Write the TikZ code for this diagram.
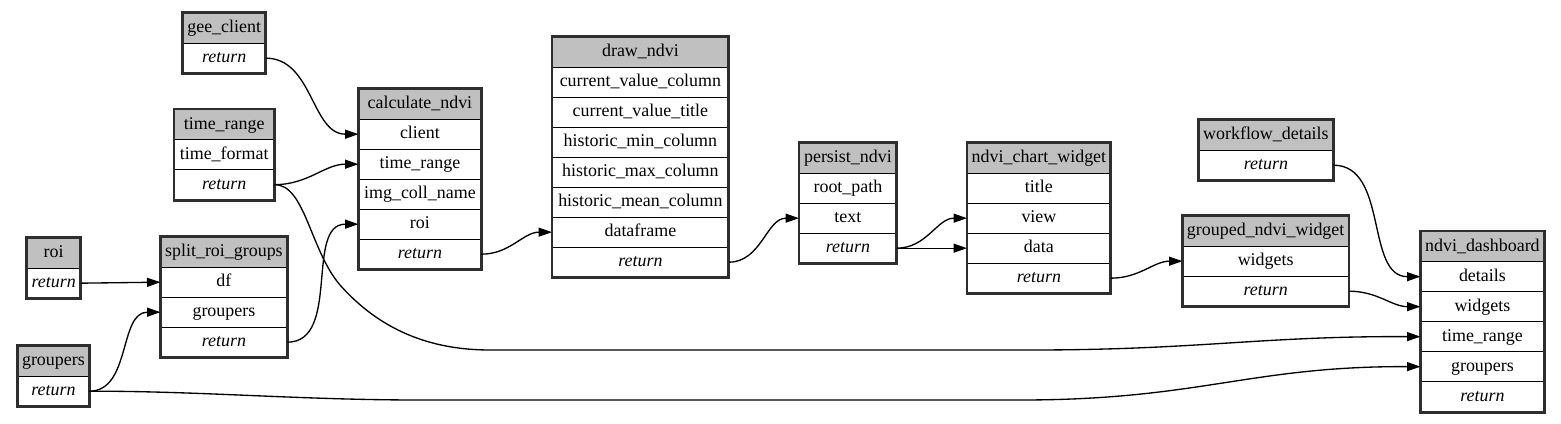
\documentclass[tikz,border=0pt]{standalone}
\usepackage{fontspec}
\setmainfont{Liberation Serif}
\usetikzlibrary{arrows.meta}
\definecolor{hdrgray}{HTML}{C0C0C0}
\definecolor{bordergray}{HTML}{2E2E2E}
\tikzset{
  cell/.style={draw=black, line width=1.33bp, fill=white, rectangle, inner sep=0pt,
    minimum height=30bp, text height=13bp, text depth=4bp, font=\fontsize{18}{20}\selectfont},
  hdr/.style={cell, fill=hdrgray},
  border/.style={draw=bordergray, line width=2.7bp},
  edge/.style={draw=black, line width=1.33bp, -{Triangle[length=13.5bp, width=9bp]}},
}
\newcommand\rec[7]{%
  \node[hdr, minimum width=#4bp, anchor=north west] (#1) at (#2,#3) {#5};
  \foreach \t [count=\i] in {#6} {
    \node[cell, minimum width=#4bp, anchor=north west] (#1-\i) at (#2,#3+30*\i) {\t};
  }
  \draw[border] (#1.north west) rectangle (#1-#7.south east);
}
\begin{document}
\begin{tikzpicture}[x=1bp, y=-1bp]
\useasboundingbox (0,0) rectangle (1561,423);
\rec{gc}{182.5}{12.5}{82}{gee\_client}{\textit{return}}{1}
\rec{tr}{174}{109}{99}{time\_range}{time\_format, \textit{return}}{2}
\rec{cn}{358.5}{88.5}{121.5}{calculate\_ndvi}{client, time\_range, img\_coll\_name, roi, \textit{return}}{5}
\rec{roi}{26.5}{237.5}{53}{roi}{\textit{return}}{1}
\rec{srg}{160.5}{236.5}{125.5}{split\_roi\_groups}{df, groupers, \textit{return}}{3}
\rec{grp}{17.5}{345.5}{70.5}{groupers}{\textit{return}}{1}
\rec{dn}{552}{36.5}{175.5}{draw\_ndvi}{current\_value\_column, current\_value\_title, historic\_min\_column, historic\_max\_column, historic\_mean\_column, dataframe, \textit{return}}{7}
\rec{pn}{799}{142.5}{96.5}{persist\_ndvi}{root\_path, text, \textit{return}}{3}
\rec{ncw}{967}{142.5}{142.5}{ndvi\_chart\_widget}{title, view, data, \textit{return}}{4}
\rec{wd}{1198.5}{119.5}{133.5}{workflow\_details}{\textit{return}}{1}
\rec{gnw}{1182.5}{215.5}{165}{grouped\_ndvi\_widget}{widgets, \textit{return}}{2}
\rec{dash}{1420.5}{231}{122.5}{ndvi\_dashboard}{details, widgets, time\_range, groupers, \textit{return}}{5}

\draw[edge] (gc-1.east) to[out=0, in=180] (cn-1.west);
\draw[edge] (tr-2.east) to[out=0, in=180] (cn-2.west);
\draw[edge] (roi-1.east) -- (srg-1.west);
\draw[edge] (grp-1.east) to[out=0, in=180] (srg-2.west);
\draw[edge] (srg-3.east) to[out=0, in=180] (cn-4.west);
\draw[edge] (cn-5.east) to[out=0, in=180] (dn-6.west);
\draw[edge] (dn-7.east) to[out=0, in=180] (pn-2.west);
\draw[edge] (pn-3.east) to[out=0, in=180] (ncw-2.west);
\draw[edge] (pn-3.east) -- (ncw-3.west);
\draw[edge] (ncw-4.east) to[out=0, in=180] (gnw-1.west);
\draw[edge] (gnw-2.east) to[out=0, in=180] (dash-2.west);
\draw[edge] (wd-1.east) to[out=0, in=180] (dash-1.west);
\draw[edge] (tr-2.east) .. controls (305,184) and (310,250) .. (340,285)
  .. controls (380,330) and (430,350) .. (490,350) -- (1030,350)
  .. controls (1200,350) and (1260,336) .. (dash-3.west);
\draw[edge] (grp-1.east) .. controls (200,391) and (300,400) .. (420,400) -- (1020,400)
  .. controls (1200,400) and (1250,366) .. (dash-4.west);
\end{tikzpicture}
\end{document}
